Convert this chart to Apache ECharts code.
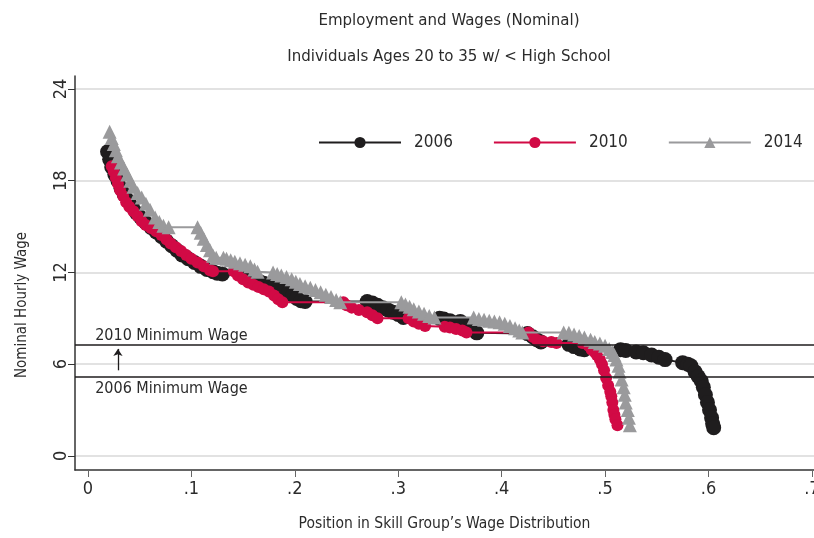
<!DOCTYPE html>
<html><head><meta charset="utf-8">
<script src="https://cdn.jsdelivr.net/npm/echarts@6/dist/echarts.min.js"></script>
<style>html,body{margin:0;padding:0;background:#fff}#c{width:814px;height:538px}</style>
</head><body><div id="c"></div>
<script>
var titleLines = ["Employment and Wages (Nominal)", "Individuals Ages 20 to 35 w/ < High School"];
var xTicks = [0, 0.1, 0.2, 0.3, 0.4, 0.5, 0.6, 0.7];
var yTicks = [0, 6, 12, 18, 24];
var seriesNames = ["2006", "2010", "2014"];
var minWage2006 = 5.15;
var minWage2010 = 7.25;

var pts2006 = [[.019,19.9],[.021,19.4],[.023,18.9],[.026,18.4],[.029,18.0],[.032,17.5],[.035,17.1],[.039,16.7],[.043,16.3],[.047,15.9],[.051,15.6],[.056,15.25],[.061,14.95],[.066,14.65],[.071,14.35],[.076,14.05],[.081,13.75],[.086,13.45],[.091,13.15],[.097,12.9],[.103,12.65],[.109,12.4],[.115,12.2],[.121,12.05],[.125,11.95],[.13,11.9],[.155,11.75],[.158,11.6],[.162,11.5],[.166,11.4],[.17,11.3],[.175,11.2],[.18,11.1],[.186,11.0],[.19,10.85],[.194,10.7],[.198,10.5],[.202,10.3],[.206,10.15],[.21,10.1],[.27,10.1],[.275,10.0],[.28,9.85],[.285,9.7],[.29,9.55],[.295,9.4],[.3,9.25],[.305,9.05],[.34,9.0],[.344,8.95],[.35,8.85],[.36,8.8],[.365,8.6],[.369,8.4],[.373,8.2],[.376,8.05],[.425,8.0],[.43,7.8],[.434,7.6],[.438,7.45],[.465,7.3],[.47,7.15],[.476,7.0],[.48,6.95],[.515,6.95],[.52,6.9],[.53,6.8],[.537,6.75],[.545,6.6],[.552,6.45],[.558,6.3],[.575,6.1],[.58,6.0],[.583,5.9],[.587,5.5],[.59,5.2],[.593,4.9],[.595,4.5],[.597,4.0],[.599,3.5],[.601,3.0],[.603,2.5],[.604,2.1],[.605,1.85]];

var pts2010 = [[.023,18.95],[.025,18.6],[.027,18.2],[.029,17.8],[.031,17.4],[.034,17.0],[.037,16.6],[.04,16.3],[.044,16.0],[.048,15.7],[.052,15.35],[.056,15.1],[.061,14.9],[.066,14.7],[.071,14.45],[.076,14.15],[.08,13.9],[.085,13.65],[.09,13.4],[.095,13.15],[.1,12.9],[.106,12.65],[.112,12.4],[.118,12.15],[.121,12.08],[.141,12.08],[.145,11.8],[.15,11.55],[.155,11.35],[.16,11.2],[.165,11.05],[.17,10.9],[.175,10.75],[.18,10.5],[.184,10.25],[.188,10.05],[.247,10.05],[.25,9.85],[.255,9.7],[.262,9.55],[.27,9.4],[.275,9.2],[.28,9.0],[.31,9.0],[.315,8.8],[.32,8.65],[.326,8.5],[.345,8.45],[.35,8.4],[.356,8.3],[.362,8.2],[.366,8.07],[.426,8.07],[.43,7.8],[.434,7.6],[.44,7.5],[.448,7.45],[.453,7.39],[.478,7.39],[.484,7.2],[.487,6.95],[.49,6.8],[.492,6.6],[.495,6.3],[.497,6.0],[.499,5.6],[.501,5.1],[.503,4.6],[.505,4.2],[.506,3.9],[.507,3.5],[.508,3.0],[.509,2.7],[.51,2.4],[.512,2.0]];

var pts2014 = [[.021,21.2],[.023,20.8],[.025,20.4],[.027,20.0],[.029,19.6],[.032,19.2],[.035,18.8],[.038,18.4],[.041,18.0],[.044,17.6],[.048,17.2],[.052,16.9],[.056,16.5],[.06,16.1],[.065,15.6],[.069,15.3],[.073,15.05],[.078,14.95],[.106,14.95],[.109,14.6],[.112,14.2],[.115,13.8],[.118,13.45],[.121,13.1],[.124,12.96],[.131,12.96],[.134,12.9],[.138,12.8],[.142,12.7],[.147,12.6],[.152,12.5],[.157,12.4],[.161,12.2],[.164,12.05],[.179,12.0],[.183,11.9],[.187,11.8],[.192,11.7],[.197,11.55],[.201,11.4],[.205,11.25],[.21,11.1],[.215,11.0],[.22,10.85],[.225,10.7],[.23,10.55],[.235,10.4],[.24,10.2],[.244,10.05],[.303,10.05],[.307,9.9],[.311,9.75],[.315,9.6],[.32,9.45],[.325,9.3],[.33,9.15],[.335,9.05],[.373,9.05],[.378,8.95],[.383,8.9],[.388,8.85],[.393,8.8],[.398,8.75],[.403,8.65],[.408,8.5],[.413,8.35],[.417,8.2],[.42,8.07],[.46,8.07],[.465,8.05],[.47,7.95],[.475,7.85],[.48,7.75],[.486,7.6],[.49,7.45],[.495,7.35],[.5,7.2],[.504,7.0],[.507,6.8],[.509,6.6],[.511,6.3],[.513,5.9],[.514,5.5],[.516,5.0],[.518,4.5],[.519,4.0],[.52,3.5],[.522,3.0],[.523,2.5],[.524,2.0]];

var FONT = '"DejaVu Sans Condensed", "Liberation Sans Narrow", "Noto Sans", sans-serif';
var TXT = '#2b2b2b';
var chart = echarts.init(document.getElementById('c'), null, {renderer: 'canvas'});

function fmtX(v) {
  if (Math.abs(v) < 1e-9) return '0';
  return String(Math.round(v * 10) / 10).replace(/^0/, '');
}

var option = {
  animation: false,
  backgroundColor: '#fff',
  textStyle: {fontFamily: FONT},
  title: [
    {text: titleLines[0], left: 444, top: 7, textAlign: 'center',
     textStyle: {fontFamily: FONT, fontSize: 16.7, fontWeight: 'normal', color: TXT}},
    {text: titleLines[1], left: 444, top: 43, textAlign: 'center',
     textStyle: {fontFamily: FONT, fontSize: 16.7, fontWeight: 'normal', color: TXT}}
  ],
  legend: {
    top: 129, left: 313, width: 600,
    itemWidth: 82, itemHeight: 14, itemGap: 40,
    textStyle: {fontFamily: FONT, fontSize: 17, color: TXT, padding: [0,0,0,8]},
    data: seriesNames
  },
  grid: {left: 75, right: 0, top: 76, bottom: 68, containLabel: false, outerBoundsMode: 'none'},
  xAxis: {
    type: 'value', min: -0.0125, max: 0.702,
    axisLine: {show: true, onZero: false, lineStyle: {color: '#333', width: 1.5}},
    axisTick: {show: true, length: 7, customValues: xTicks, lineStyle: {color: '#666'}},
    axisLabel: {customValues: xTicks, formatter: fmtX, fontFamily: FONT, fontSize: 18, color: TXT, margin: 10},
    splitLine: {show: false},
    name: 'Position in Skill Group\u2019s Wage Distribution',
    nameLocation: 'middle', nameGap: 46,
    nameTextStyle: {fontFamily: FONT, fontSize: 15.5, color: TXT}
  },
  yAxis: {
    type: 'value', min: -0.92, max: 24.85,
    axisLine: {show: true, onZero: false, lineStyle: {color: '#333', width: 1.5}},
    axisTick: {show: true, length: 7, customValues: yTicks, lineStyle: {color: '#333'}},
    axisLabel: {customValues: yTicks, rotate: 90, fontFamily: FONT, fontSize: 18, color: TXT, margin: 5},
    splitLine: {show: true, lineStyle: {color: '#d9d9d9', width: 1.5}}
  },
  series: [
    {name: '2006', type: 'line', data: pts2006, symbol: 'circle', symbolSize: 15,
     itemStyle: {color: '#1f1d1e'}, lineStyle: {color: '#1f1d1e', width: 2}, z: 2,
     markLine: {silent: true, symbol: 'none', animation: false, label: {show: false},
       lineStyle: {color: '#1f1d1e', width: 1.6, type: 'solid'},
       data: [{yAxis: minWage2010}, {yAxis: minWage2006}]}},
    {name: '2010', type: 'line', data: pts2010, symbol: 'circle', symbolSize: 12,
     itemStyle: {color: '#d10a45'}, lineStyle: {color: '#d10a45', width: 2}, z: 3,
     markLine: {silent: true, animation: false, symbol: ['none', 'arrow'], symbolSize: 7, label: {show: false},
       lineStyle: {color: '#1f1d1e', width: 1.3, type: 'solid'},
       data: [[{coord: [0.029, 5.6]}, {coord: [0.029, 7.0]}]]}},
    {name: '2014', type: 'line', data: pts2014, symbol: 'triangle', symbolSize: 14,
     itemStyle: {color: '#9a9a9c'}, lineStyle: {color: '#9a9a9c', width: 2}, z: 4}
  ]
};
chart.setOption(option);

var p10 = chart.convertToPixel({gridIndex: 0}, [0.007, minWage2010]);
var p06 = chart.convertToPixel({gridIndex: 0}, [0.007, minWage2006]);
chart.setOption({
  graphic: [
    {type: 'text', left: p10[0], top: p10[1] - 17,
     style: {text: '2010 Minimum Wage', font: '16px ' + FONT, fill: TXT}},
    {type: 'text', left: p06[0], top: p06[1] + 4,
     style: {text: '2006 Minimum Wage', font: '16px ' + FONT, fill: TXT}},
    {type: 'text', x: 22, y: 305, rotation: Math.PI / 2, originX: 0, originY: 0,
     style: {text: 'Nominal Hourly Wage', font: '15px ' + FONT, fill: TXT, align: 'center', verticalAlign: 'middle'}}
  ]
});
</script>
</body></html>
